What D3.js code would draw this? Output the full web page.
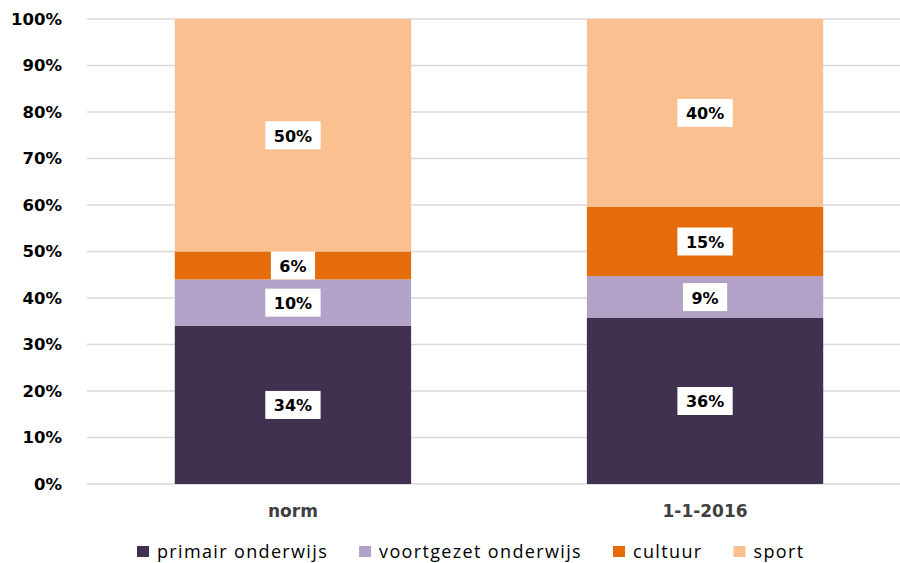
<!DOCTYPE html>
<html>
<head>
<meta charset="utf-8">
<script src="https://cdn.jsdelivr.net/npm/d3@7"></script>
<style>
  body { margin: 0; background: #fff; }
  svg { display: block; }
</style>
</head>
<body>
<div id="graph"></div>
<script>
// data
var categories = ["norm", "1-1-2016"]
var seriesNames = ["primair onderwijs", "voortgezet onderwijs", "cultuur", "sport"]
var primair = [34, 35.7]
var voortgezet = [10, 9]
var cultuur = [6, 14.9]
var sport = [50, 40.4]
var yTicks = [0, 10, 20, 30, 40, 50, 60, 70, 80, 90, 100]
var colors = ["#403151", "#b3a2c7", "#e46c0a", "#fac090"]

var W = 900, H = 563
var margin = {top: 19, right: 0, bottom: 79, left: 87}

var svg = d3.select("#graph").append("svg")
    .attr("width", W)
    .attr("height", H)

// build rows for the stack
var rows = categories.map(function(c, i) {
    return {
        cat: c,
        "primair onderwijs": primair[i],
        "voortgezet onderwijs": voortgezet[i],
        "cultuur": cultuur[i],
        "sport": sport[i]
    }
})

var stack = d3.stack().keys(seriesNames)
var layers = stack(rows)

var x = d3.scaleBand()
    .domain(categories)
    .range([margin.left, 911])
    .paddingInner(0.4265)
    .paddingOuter(0.213)

var y = d3.scaleLinear()
    .domain([0, 100])
    .range([H - margin.bottom, margin.top])

// gridlines
svg.append("g")
    .selectAll("line")
    .data(yTicks)
    .join("line")
    .attr("x1", margin.left)
    .attr("x2", W)
    .attr("y1", function(d) { return y(d) })
    .attr("y2", function(d) { return y(d) })
    .attr("stroke", "#d9d9d9")
    .attr("stroke-width", 1.5)

// y axis labels
var yAxis = d3.axisLeft(y)
    .tickValues(yTicks)
    .tickSize(0)
    .tickPadding(25)
    .tickFormat(function(d) { return d + "%" })

svg.append("g")
    .attr("transform", "translate(" + margin.left + ",0)")
    .call(yAxis)
    .call(function(g) { g.select(".domain").remove() })
    .selectAll("text")
    .attr("font-family", "DejaVu Sans, Verdana, sans-serif")
    .attr("font-weight", "bold")
    .attr("font-size", "16.5px")
    .attr("fill", "#000")

// bars
var layerG = svg.append("g")
    .selectAll("g")
    .data(layers)
    .join("g")
    .attr("fill", function(d, i) { return colors[i] })

layerG.selectAll("rect")
    .data(function(d) { return d })
    .join("rect")
    .attr("x", function(d) { return x(d.data.cat) })
    .attr("width", x.bandwidth())
    .attr("y", function(d) { return y(d[1]) })
    .attr("height", function(d) { return y(d[0]) - y(d[1]) })

// data labels with white boxes
var labelG = svg.append("g")
var allSegs = []
layers.forEach(function(layer) {
    layer.forEach(function(d) { allSegs.push(d) })
})

allSegs.forEach(function(d) {
    var cx = x(d.data.cat) + x.bandwidth() / 2
    var cy = (y(d[0]) + y(d[1])) / 2
    var g = labelG.append("g")
    var rect = g.append("rect").attr("fill", "#fff")
    var t = g.append("text")
        .attr("x", cx)
        .attr("y", cy + 1)
        .attr("text-anchor", "middle")
        .attr("dominant-baseline", "central")
        .attr("font-family", "DejaVu Sans, Verdana, sans-serif")
        .attr("font-weight", "bold")
        .attr("font-size", "16px")
        .attr("fill", "#000")
        .text(Math.round(d[1] - d[0]) + "%")
    var bb = t.node().getBBox()
    rect.attr("x", cx - bb.width / 2 - 8.5)
        .attr("y", cy - 14)
        .attr("width", bb.width + 17)
        .attr("height", 28)
})

// x axis labels
var xAxis = d3.axisBottom(x).tickSize(0).tickPadding(21)
svg.append("g")
    .attr("transform", "translate(0," + (H - margin.bottom) + ")")
    .call(xAxis)
    .call(function(g) { g.select(".domain").remove() })
    .selectAll("text")
    .attr("font-family", "DejaVu Sans, Verdana, sans-serif")
    .attr("font-weight", "bold")
    .attr("font-size", "17px")
    .attr("fill", "#404040")

// legend
var legend = svg.append("g")
var lx = 137
seriesNames.forEach(function(name, i) {
    var item = legend.append("g").attr("transform", "translate(" + lx + ",546)")
    item.append("rect")
        .attr("width", 12)
        .attr("height", 11)
        .attr("fill", colors[i])
    var t = item.append("text")
        .attr("x", 20)
        .attr("y", 12)
        .attr("font-family", "Open Sans, sans-serif")
        .attr("font-size", "18px")
        .attr("letter-spacing", "1.35px")
        .attr("fill", "#000")
        .text(name)
    lx += 20 + t.node().getComputedTextLength() + 31
})
</script>
</body>
</html>
